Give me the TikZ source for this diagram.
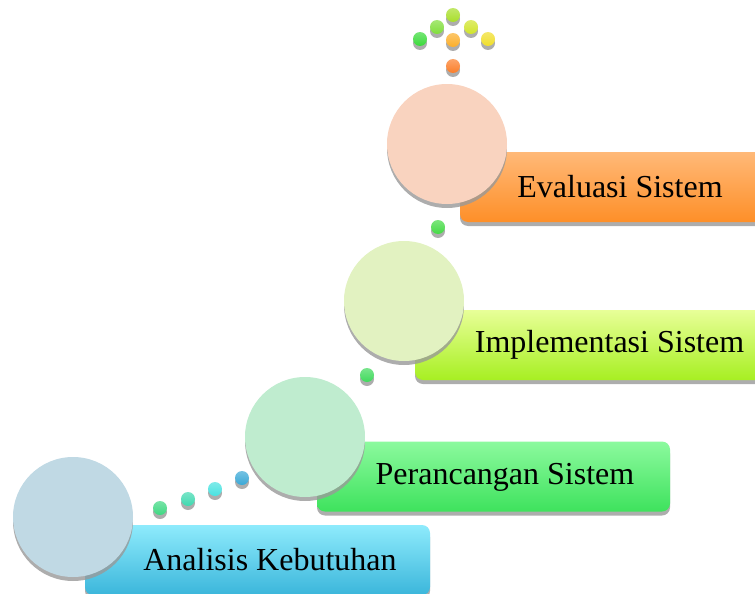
\documentclass[tikz,border=0pt]{standalone}
\usepackage{fontspec}
\setmainfont{Liberation Serif}
\usetikzlibrary{shadows}
\definecolor{cA}{HTML}{C0D9E4}
\definecolor{cB}{HTML}{BFECCF}
\definecolor{cC}{HTML}{E2F2C1}
\definecolor{cD}{HTML}{F9D3BF}
\definecolor{bAt}{HTML}{8EEBFC}\definecolor{bAb}{HTML}{3BB6DB}
\definecolor{bBt}{HTML}{8CFA9E}\definecolor{bBb}{HTML}{3EE25D}
\definecolor{bCt}{HTML}{E8FF98}\definecolor{bCb}{HTML}{A7EF22}
\definecolor{bDt}{HTML}{FFB978}\definecolor{bDb}{HTML}{FE8F28}
\tikzset{
  shad/.style={drop shadow={shadow xshift=0pt,shadow yshift=-4pt,fill=black!40,opacity=0.8}},
  stagebox/.style={rectangle,rounded corners=8pt,minimum height=70pt,shad,inner sep=0pt},
  stagecircle/.style={circle,minimum size=120pt,inner sep=0pt,shad},
  stagetext/.style={font=\fontsize{32}{35}\selectfont,text=black,inner sep=0pt},
  ball/.style={circle,minimum size=14pt,inner sep=0pt,top color=#1!70!white,bottom color=#1,
    drop shadow={shadow xshift=0pt,shadow yshift=-4pt,fill=black!40,opacity=0.8}},
}
\begin{document}
\begin{tikzpicture}[x=1pt,y=-1pt]
\useasboundingbox (0,0) rectangle (755,594);
% boxes
\node[stagebox,minimum width=345pt,top color=bAt,bottom color=bAb] (b1) at (257.5,560) {};
\node[stagebox,minimum width=353pt,top color=bBt,bottom color=bBb] (b2) at (493.5,476.5) {};
\node[stagebox,minimum width=360pt,top color=bCt,bottom color=bCb] (b3) at (595,345) {};
\node[stagebox,minimum width=320pt,top color=bDt,bottom color=bDb] (b4) at (620,187) {};
% circles
\node[stagecircle,fill=cA] (c1) at (73,517) {};
\node[stagecircle,fill=cB] (c2) at (305,437) {};
\node[stagecircle,fill=cC] (c3) at (404,301) {};
\node[stagecircle,fill=cD] (c4) at (447,144) {};
% texts
\node[stagetext] (t1) at (270,560) {Analisis Kebutuhan};
\node[stagetext] (t2) at (505,477) {Perancangan Sistem};
\node[stagetext] (t3) at (609.5,345) {Implementasi Sistem};
\node[stagetext] (t4) at (620,187) {Evaluasi Sistem};
% dots
\definecolor{d1}{HTML}{3ED882}\definecolor{d2}{HTML}{40D9B0}
\definecolor{d3}{HTML}{48E2E0}\definecolor{d4}{HTML}{3AA8D6}
\definecolor{d5}{HTML}{40DA5C}\definecolor{d6}{HTML}{44DA44}
\definecolor{e1}{HTML}{3ADA3A}\definecolor{e2}{HTML}{80DE3A}
\definecolor{e3}{HTML}{A8DE2A}\definecolor{e4}{HTML}{D0E42A}
\definecolor{e5}{HTML}{F0DE2A}\definecolor{e6}{HTML}{FBAE2A}
\definecolor{e7}{HTML}{FB7E2A}
\node[ball=d1] (p1) at (160,508) {};
\node[ball=d2] (p2) at (188,499) {};
\node[ball=d3] (p3) at (215,489) {};
\node[ball=d4] (p4) at (242,478) {};
\node[ball=d5] (p5) at (367,375) {};
\node[ball=d6] (p6) at (438,227) {};
\node[ball=e1] (q1) at (420,39) {};
\node[ball=e2] (q2) at (437,27) {};
\node[ball=e3] (q3) at (453,15) {};
\node[ball=e4] (q4) at (471,27) {};
\node[ball=e5] (q5) at (488,39) {};
\node[ball=e6] (q6) at (453,40) {};
\node[ball=e7] (q7) at (453,66) {};
\end{tikzpicture}
\end{document}
